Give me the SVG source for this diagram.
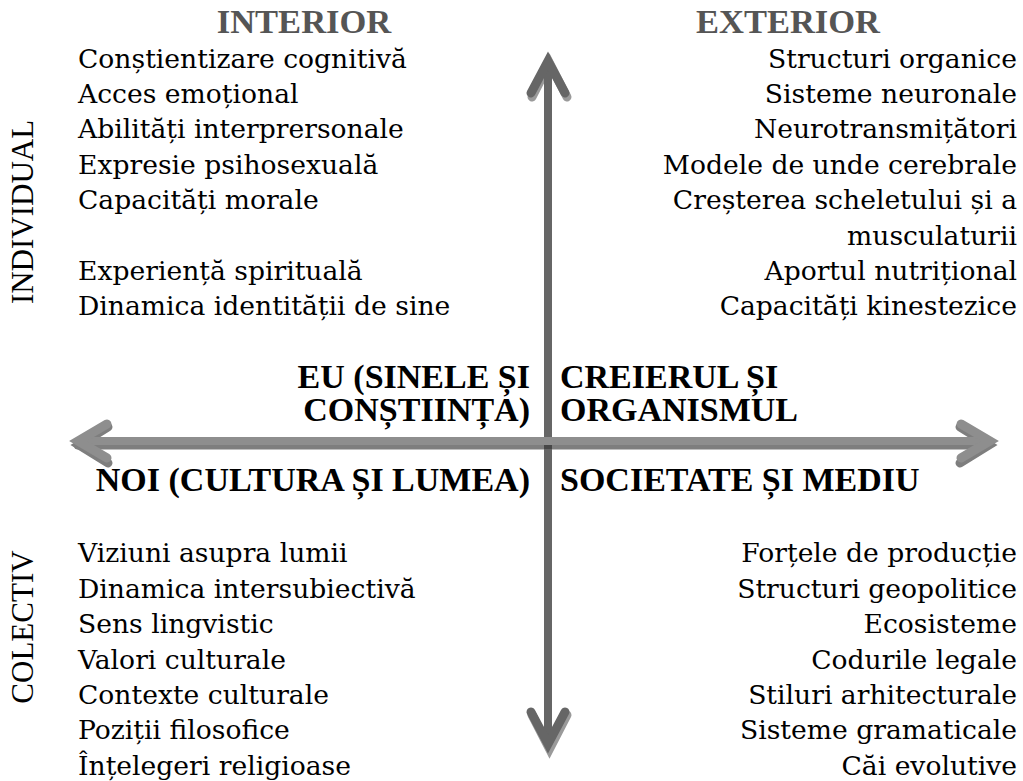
<svg xmlns="http://www.w3.org/2000/svg" width="1023" height="781" viewBox="0 0 1023 781">
<style>
.body{font-family:"DejaVu Serif","Liberation Serif",serif;font-size:26.6px;fill:#000}
.r{text-anchor:end}
.hdr{font-family:"Liberation Serif",serif;font-weight:bold;font-size:34.5px;fill:#555;text-anchor:middle}
.quad{font-family:"Liberation Serif",serif;font-weight:bold;font-size:34px;fill:#000}
.side{font-family:"Liberation Serif",serif;font-size:31px;fill:#000;text-anchor:middle}
.vshaft{stroke:#666;stroke-width:8;fill:none}
.vshadow{stroke:#9a9a9a;stroke-width:9;fill:none;stroke-linecap:round;stroke-linejoin:miter}
.vhead{stroke:#666;stroke-width:9;fill:none;stroke-linecap:round;stroke-linejoin:miter}
.hshaft{stroke:#8e8e8e;stroke-width:8;fill:none}
.hshadow{stroke:#7e7e7e;stroke-width:9;fill:none;stroke-linecap:round;stroke-linejoin:miter}
.hhead{stroke:#8e8e8e;stroke-width:9;fill:none;stroke-linecap:round;stroke-linejoin:miter}
</style>
<rect width="1023" height="781" fill="#fff"/>
<g id="connectors">
  <line class="hshadow" x1="78" y1="445" x2="988" y2="445"/>
  <polyline class="hshadow" points="108,427 79,445 108,463"/>
  <polyline class="hshadow" points="960,427 989,445 960,463"/>
  <polyline class="vshadow" points="532,97 549.5,63 567,97"/>
  <polyline class="vshadow" points="532,715 549.5,749 567,715"/>
  <line class="vshaft" x1="548" y1="63" x2="548" y2="744"/>
  <polyline class="vhead" points="531,93 548,61 565,93"/>
  <polyline class="vhead" points="531,712 548,744 565,712"/>
  <line class="hshaft" x1="78" y1="441" x2="988" y2="441"/>
  <polyline class="hhead" points="107,424 78,441 107,458"/>
  <polyline class="hhead" points="961,424 990,441 961,458"/>
  <rect x="544" y="445" width="8" height="4" fill="#474747"/>
</g>
<g id="headers">
  <text class="hdr" x="304" y="33">INTERIOR</text>
  <text class="hdr" x="788" y="33">EXTERIOR</text>
</g>
<g id="side-labels">
  <text class="side" transform="translate(33,212) rotate(-90)">INDIVIDUAL</text>
  <text class="side" transform="translate(33,627) rotate(-90)">COLECTIV</text>
</g>
<g id="upper-left">
  <text class="body" x="78" y="68">Conștientizare cognitivă</text>
  <text class="body" x="78" y="103">Acces emoțional</text>
  <text class="body" x="78" y="138">Abilități interprersonale</text>
  <text class="body" x="78" y="174">Expresie psihosexuală</text>
  <text class="body" x="78" y="209">Capacități morale</text>
  <text class="body" x="78" y="280">Experiență spirituală</text>
  <text class="body" x="78" y="315">Dinamica identității de sine</text>
  <text class="quad r" x="530" y="388">EU (SINELE ȘI</text>
  <text class="quad r" x="530" y="421">CONȘTIINȚA)</text>
</g>
<g id="upper-right">
  <text class="body r" x="1017" y="68">Structuri organice</text>
  <text class="body r" x="1017" y="103">Sisteme neuronale</text>
  <text class="body r" x="1017" y="138">Neurotransmițători</text>
  <text class="body r" x="1017" y="174">Modele de unde cerebrale</text>
  <text class="body r" x="1017" y="209">Creșterea scheletului și a</text>
  <text class="body r" x="1017" y="245">musculaturii</text>
  <text class="body r" x="1017" y="280">Aportul nutrițional</text>
  <text class="body r" x="1017" y="315">Capacități kinestezice</text>
  <text class="quad" x="560" y="388">CREIERUL ȘI</text>
  <text class="quad" x="560" y="421">ORGANISMUL</text>
</g>
<g id="lower-left">
  <text class="quad r" x="530" y="491">NOI (CULTURA ȘI LUMEA)</text>
  <text class="body" x="78" y="562">Viziuni asupra lumii</text>
  <text class="body" x="78" y="598">Dinamica intersubiectivă</text>
  <text class="body" x="78" y="633">Sens lingvistic</text>
  <text class="body" x="78" y="669">Valori culturale</text>
  <text class="body" x="78" y="704">Contexte culturale</text>
  <text class="body" x="78" y="739">Poziții filosofice</text>
  <text class="body" x="78" y="775">Înțelegeri religioase</text>
</g>
<g id="lower-right">
  <text class="quad" x="560" y="491">SOCIETATE ȘI MEDIU</text>
  <text class="body r" x="1017" y="562">Forțele de producție</text>
  <text class="body r" x="1017" y="598">Structuri geopolitice</text>
  <text class="body r" x="1017" y="633">Ecosisteme</text>
  <text class="body r" x="1017" y="669">Codurile legale</text>
  <text class="body r" x="1017" y="704">Stiluri arhitecturale</text>
  <text class="body r" x="1017" y="739">Sisteme gramaticale</text>
  <text class="body r" x="1017" y="775">Căi evolutive</text>
</g>
</svg>
